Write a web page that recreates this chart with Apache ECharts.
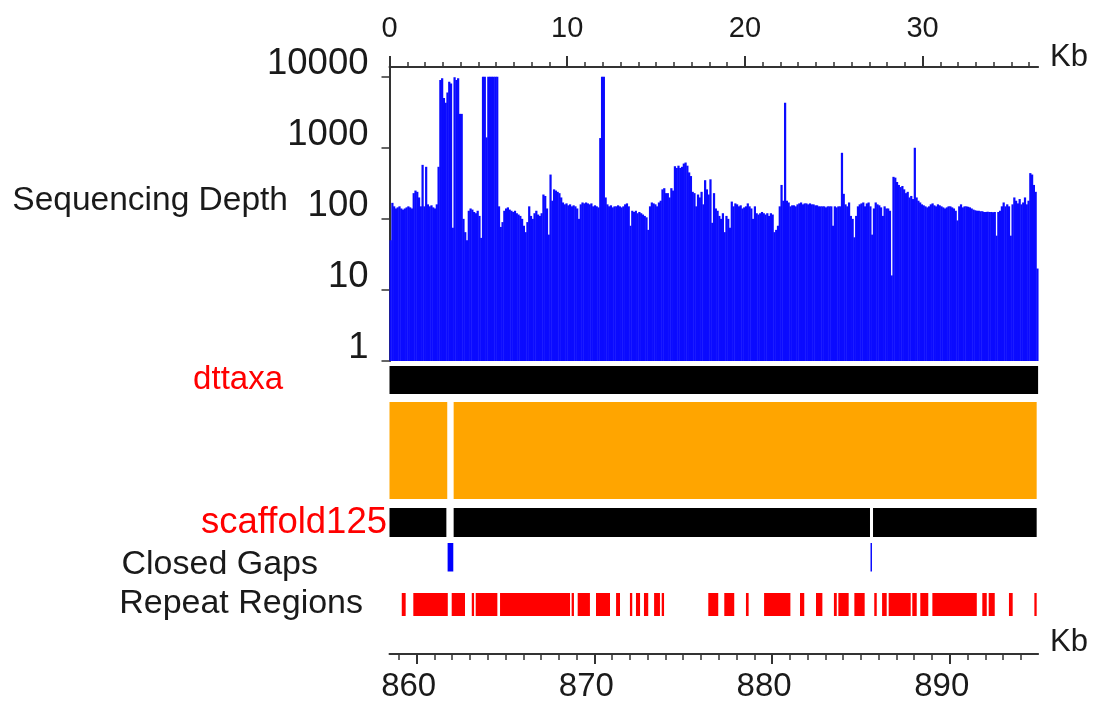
<!DOCTYPE html>
<html>
<head>
<meta charset="utf-8">
<script src="https://cdn.jsdelivr.net/npm/echarts@6/dist/echarts.min.js"></script>
<style>
  html, body { margin: 0; padding: 0; background: #ffffff; }
  #chart { width: 1097px; height: 707px; }
</style>
</head>
<body>
<div id="chart"></div>
<script>
// ---- data (positions in kb along the contig unless noted) ----
const contigLengthKb = 36.5;
const scaffoldOffsetKb = 858.47;      // contig start on scaffold125
const depthBinKb = 0.1;

const depthTicks = [1, 10, 100, 1000, 10000];
const contigTicks = [0, 10, 20, 30];
const scaffoldTicks = [860, 870, 880, 890];

// read depth per 0.1 kb bin (one row per kb)
const depth = [
  50, 168, 150, 140, 145, 150, 140, 135, 140, 145,
  150, 145, 140, 230, 250, 240, 200, 150, 575, 150,
  540, 160, 150, 155, 145, 140, 160, 540, 9000, 9500,
  5000, 4300, 6000, 8500, 8000, 75, 9800, 9000, 9500, 3000,
  3000, 100, 65, 50, 130, 140, 135, 125, 120, 130,
  110, 54, 10000, 10000, 1400, 10000, 10000, 10000, 10000, 10000,
  10000, 150, 77, 90, 130, 140, 145, 135, 130, 125,
  130, 120, 115, 110, 100, 80, 65, 90, 150, 110,
  100, 120, 130, 115, 110, 120, 220, 210, 140, 60,
  420, 180, 260, 250, 240, 230, 200, 170, 160, 165,
  155, 160, 150, 155, 150, 140, 100, 160, 170, 165,
  170, 165, 160, 165, 150, 155, 150, 145, 1370, 10000,
  10000, 200, 160, 150, 155, 145, 150, 150, 155, 150,
  145, 150, 160, 165, 150, 80, 130, 125, 130, 120,
  125, 120, 115, 110, 105, 70, 150, 170, 165, 160,
  150, 170, 180, 260, 270, 230, 230, 200, 270, 250,
  550, 520, 560, 520, 540, 600, 620, 560, 450, 400,
  240, 230, 150, 220, 200, 240, 160, 350, 260, 220,
  360, 88, 230, 140, 130, 110, 100, 120, 65, 110,
  100, 75, 175, 150, 165, 160, 150, 155, 140, 145,
  150, 165, 150, 140, 100, 150, 120, 115, 120, 125,
  120, 115, 120, 110, 120, 115, 65, 70, 80, 150,
  300, 180, 4300, 180, 170, 150, 155, 155, 150, 160,
  165, 170, 160, 165, 165, 160, 165, 160, 160, 155,
  155, 150, 150, 150, 150, 145, 150, 150, 150, 80,
  150, 145, 150, 150, 850, 225, 160, 150, 170, 110,
  100, 55, 110, 150, 160, 165, 170, 150, 165, 170,
  150, 60, 140, 170, 160, 155, 145, 110, 150, 140,
  140, 130, 16, 390, 380, 330, 300, 280, 290, 260,
  230, 240, 200, 210, 190, 1000, 200, 180, 170, 160,
  155, 150, 145, 150, 160, 165, 155, 150, 160, 155,
  150, 145, 140, 145, 150, 150, 145, 140, 130, 95,
  150, 160, 145, 150, 150, 148, 145, 140, 135, 132,
  130, 130, 128, 128, 125, 125, 126, 125, 125, 124,
  125, 58, 125, 130, 150, 170, 150, 160, 150, 58,
  160, 200, 180, 165, 190, 160, 170, 200, 160, 180,
  440, 420, 300, 240, 20
];

const dttaxaBlocks = [[0, 36.5]];
const alignmentBlocks = [[0, 3.25], [3.61, 36.42]];
const scaffoldBlocks = [[0, 3.2], [3.61, 27.04], [27.21, 36.42]];
const closedGaps = [[3.27, 3.59], [27.07, 27.15]];
const repeatRegions = [
  [0.69, 0.91], [1.34, 3.28], [3.50, 4.25], [4.63, 4.76], [4.85, 6.07],
  [6.22, 10.16], [10.25, 10.38], [10.59, 11.28], [11.62, 12.41], [12.75, 12.97],
  [13.53, 13.66], [13.87, 14.10], [14.32, 14.56], [14.89, 15.22], [15.32, 15.45],
  [17.94, 18.50], [18.84, 19.40], [20.06, 20.21], [21.08, 22.56], [23.10, 23.34],
  [24.00, 24.36], [25.01, 25.17], [25.26, 25.84], [26.16, 26.74], [27.28, 27.42],
  [27.72, 27.98], [28.09, 29.33], [29.42, 29.67], [29.87, 30.32], [30.55, 33.05],
  [33.36, 33.61], [33.72, 34.06], [34.86, 35.07], [36.29, 36.42]
];

const trackNames = {
  dttaxa: 'dttaxa',
  scaffold: 'scaffold125',
  gaps: 'Closed Gaps',
  repeats: 'Repeat Regions'
};

// ---- layout ----
const FONT = "'Liberation Sans', Arial, sans-serif";
const gridLeft = 389.5;
const gridRight = 58.9;
const axisColor = '#333333';
const textColor = '#1a1a1a';

const minorContigTicks = Array.from({ length: 37 }, (_, i) => i);
const minorScaffoldTicks = Array.from({ length: 36 }, (_, i) => 859 + i);

const depthData = depth.map((v, i) => [i * depthBinKb, (i + 1) * depthBinKb, v]);

function blockRenderer(color) {
  return function (params, api) {
    const a = api.coord([api.value(0), 1]);
    const b = api.coord([api.value(1), 0]);
    return {
      type: 'rect',
      shape: { x: a[0], y: a[1], width: Math.max(b[0] - a[0], 1.2), height: b[1] - a[1] },
      style: { fill: color }
    };
  };
}

// each bin is a bar from depth 1 up to its value; slight overlap hides seams
function depthRenderer(params, api) {
  const top = api.coord([api.value(0), api.value(2)]);
  const base = api.coord([api.value(1), 1]);
  return {
    type: 'rect',
    shape: { x: top[0], y: top[1], width: base[0] - top[0] + 0.45, height: base[1] - top[1] },
    style: { fill: '#0b0bff' }
  };
}

function hiddenX(gridIndex) {
  return { type: 'value', gridIndex, min: 0, max: contigLengthKb, show: false };
}

function trackY(gridIndex, label, color, margin, fontSize, at) {
  return {
    type: 'value', gridIndex, min: 0, max: 1,
    axisLine: { show: false }, axisTick: { show: false }, splitLine: { show: false },
    axisLabel: {
      show: !!label,
      customValues: [at == null ? 0.5 : at],
      formatter: () => label || '',
      color, fontFamily: FONT, fontSize, margin
    }
  };
}

const chart = echarts.init(document.getElementById('chart'), null, { renderer: 'canvas' });

const gridBase = { left: gridLeft, right: gridRight, outerBoundsMode: 'none', containLabel: false };

chart.setOption({
  animation: false,
  backgroundColor: '#ffffff',
  grid: [
    Object.assign({ top: 67, height: 294 }, gridBase),     // depth
    Object.assign({ top: 366, height: 28 }, gridBase),     // dttaxa
    Object.assign({ top: 402, height: 97 }, gridBase),     // alignment
    Object.assign({ top: 508, height: 29 }, gridBase),     // scaffold
    Object.assign({ top: 543, height: 28.5 }, gridBase),   // closed gaps
    Object.assign({ top: 593, height: 23 }, gridBase)      // repeats
  ],
  xAxis: [
    {
      type: 'value', gridIndex: 0, position: 'top', min: 0, max: contigLengthKb,
      axisLine: { show: true, lineStyle: { color: axisColor, width: 2 } },
      axisTick: { show: true, customValues: contigTicks, length: 11, lineStyle: { color: axisColor, width: 2 } },
      axisLabel: {
        customValues: contigTicks, color: textColor, fontFamily: FONT, fontSize: 29,
        margin: 38, verticalAlign: 'middle'
      },
      splitLine: { show: false },
      name: 'Kb', nameLocation: 'end', nameGap: 12, nameMoveOverlap: false,
      nameTextStyle: { color: textColor, fontFamily: FONT, fontSize: 31, verticalAlign: 'bottom', lineHeight: 20 }
    },
    {
      type: 'value', gridIndex: 0, position: 'top', min: 0, max: contigLengthKb,
      axisLine: { show: false },
      axisTick: { show: true, customValues: minorContigTicks, length: 5, lineStyle: { color: axisColor, width: 1.5 } },
      axisLabel: { show: false },
      splitLine: { show: false }
    },
    hiddenX(1), hiddenX(2), hiddenX(3), hiddenX(4), hiddenX(5),
    {
      type: 'value', gridIndex: 5, position: 'bottom', offset: 38,
      min: scaffoldOffsetKb, max: scaffoldOffsetKb + contigLengthKb,
      axisLine: { show: true, lineStyle: { color: axisColor, width: 2 } },
      axisTick: { show: true, customValues: scaffoldTicks, length: 10, lineStyle: { color: axisColor, width: 2 } },
      axisLabel: {
        customValues: scaffoldTicks, color: textColor, fontFamily: FONT, fontSize: 33,
        margin: 33, verticalAlign: 'middle', padding: [0, 16, 0, 0]
      },
      splitLine: { show: false },
      name: 'Kb', nameLocation: 'end', nameGap: 12, nameMoveOverlap: false,
      nameTextStyle: { color: textColor, fontFamily: FONT, fontSize: 31, verticalAlign: 'bottom', lineHeight: 24 }
    },
    {
      type: 'value', gridIndex: 5, position: 'bottom', offset: 38,
      min: scaffoldOffsetKb, max: scaffoldOffsetKb + contigLengthKb,
      axisLine: { show: false },
      axisTick: { show: true, customValues: minorScaffoldTicks, length: 6, lineStyle: { color: axisColor, width: 1.5 } },
      axisLabel: { show: false },
      splitLine: { show: false }
    }
  ],
  yAxis: [
    {
      type: 'log', logBase: 10, gridIndex: 0, min: 1, max: 13695,
      axisLine: { show: true, lineStyle: { color: axisColor, width: 2 } },
      axisTick: { show: true, customValues: depthTicks, length: 8, lineStyle: { color: axisColor, width: 1.5 } },
      axisLabel: {
        customValues: depthTicks, color: textColor, fontFamily: FONT, fontSize: 36.5,
        margin: 21, verticalAlign: 'bottom', lineHeight: 26,
        formatter: v => String(Math.round(v))
      },
      splitLine: { show: false },
      name: 'Sequencing Depth', nameLocation: 'middle', nameRotate: 0, nameGap: 101.5,
      nameMoveOverlap: false,
      nameTextStyle: { color: textColor, fontFamily: FONT, fontSize: 33.5, verticalAlign: 'bottom', lineHeight: 26 }
    },
    trackY(1, trackNames.dttaxa, '#ff0000', 106.5, 33),
    trackY(2, '', '#000', 0, 32),
    trackY(3, trackNames.scaffold, '#ff0000', 2.5, 36.5),
    trackY(4, trackNames.gaps, textColor, 71.5, 34, 0.25),
    trackY(5, trackNames.repeats, textColor, 26.5, 34, 0.55)
  ],
  series: [
    {
      type: 'custom', name: 'depth', xAxisIndex: 0, yAxisIndex: 0,
      renderItem: depthRenderer, encode: { x: [0, 1], y: 2 }, data: depthData, clip: true
    },
    {
      type: 'custom', name: 'dttaxa', xAxisIndex: 2, yAxisIndex: 1,
      renderItem: blockRenderer('#000000'), encode: { x: [0, 1] }, data: dttaxaBlocks
    },
    {
      type: 'custom', name: 'alignment', xAxisIndex: 3, yAxisIndex: 2,
      renderItem: blockRenderer('#ffa500'), encode: { x: [0, 1] }, data: alignmentBlocks
    },
    {
      type: 'custom', name: 'scaffold', xAxisIndex: 4, yAxisIndex: 3,
      renderItem: blockRenderer('#000000'), encode: { x: [0, 1] }, data: scaffoldBlocks
    },
    {
      type: 'custom', name: 'closed gaps', xAxisIndex: 5, yAxisIndex: 4,
      renderItem: blockRenderer('#0000ff'), encode: { x: [0, 1] }, data: closedGaps
    },
    {
      type: 'custom', name: 'repeats', xAxisIndex: 6, yAxisIndex: 5,
      renderItem: blockRenderer('#ff0000'), encode: { x: [0, 1] }, data: repeatRegions
    }
  ]
});
</script>
</body>
</html>
